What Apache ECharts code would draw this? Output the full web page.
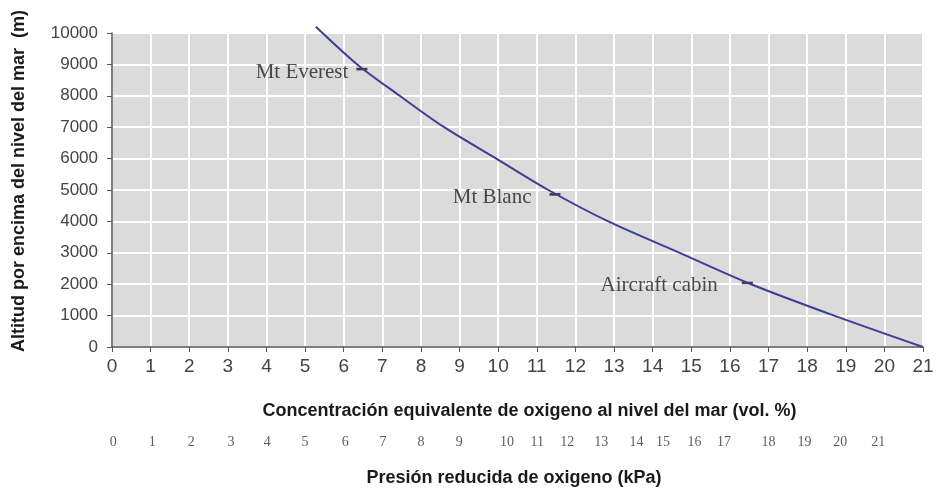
<!DOCTYPE html>
<html>
<head>
<meta charset="utf-8">
<script src="https://cdn.jsdelivr.net/npm/echarts@6/dist/echarts.min.js"></script>
<style>html,body{margin:0;padding:0;background:#fff;}#c{width:938px;height:499px;}</style>
</head>
<body>
<div id="c"></div>
<script>
// Curve: altitude (m) vs equivalent sea-level O2 concentration (vol. %)
const altitudes = [10200, 9000, 8000, 7000, 6000, 5000, 4000, 3000, 2000, 1000, 0];
const o2Vol     = [5.28, 6.35, 7.45, 8.6, 9.95, 11.3, 12.85, 14.7, 16.55, 18.7, 21.0];

// Landmarks on the curve
const landmarkNames = ['Mt Everest', 'Mt Blanc', 'Aircraft cabin'];
const landmarkVol   = [6.47, 11.47, 16.45];
const landmarkAlt   = [8850, 4860, 2040];

// Axis ticks
const volTicks = [0, 21, 1];        // min, max, step
const altTicks = [0, 10000, 1000];  // min, max, step

// Secondary scale: kPa labels and the vol.% value each one sits under
const kpaLabels = ['0','1','2','3','4','5','6','7','8','9','10','11','12','13','14','15','16','17','18','19','20','21'];
const kpaAtVol  = [0.03,1.04,2.05,3.08,4.02,5.0,6.04,7.02,8.0,8.99,10.23,11.01,11.79,12.67,13.58,14.27,15.08,15.85,17.0,17.93,18.86,19.84];

const chart = echarts.init(document.getElementById('c'), null, {renderer: 'canvas'});
const sans = 'Liberation Sans, Arial, sans-serif';
const serif = 'Liberation Serif, Times New Roman, serif';

const labelGaps = [8, 18, 24];
const curveData = altitudes.map((a, i) => [o2Vol[i], a]);
const landData = landmarkNames.map((n, i) => ({
  name: n, value: [landmarkVol[i], landmarkAlt[i]],
  label: {distance: labelGaps[i]}
}));
const kpaData = kpaLabels.map((l, i) => ({name: l, value: [kpaAtVol[i], 0.5]}));

chart.setOption({
  animation: false,
  backgroundColor: '#ffffff',
  grid: [
    {left: 112, right: 15, top: 33, bottom: 152, show: true, backgroundColor: '#dbdbdb', borderWidth: 0},
    {left: 112, right: 15, top: 432, height: 20, show: false}
  ],
  xAxis: [
    {
      type: 'value', gridIndex: 0, min: volTicks[0], max: volTicks[1], interval: volTicks[2],
      name: 'Concentración equivalente de oxigeno al nivel del mar (vol. %)',
      nameLocation: 'middle', nameGap: 55,
      nameTextStyle: {fontFamily: sans, fontWeight: 'bold', fontSize: 18, color: '#1a1a1a', padding: [0, 0, 0, 24]},
      axisLine: {show: true, lineStyle: {color: '#555', width: 1.5}},
      axisTick: {show: true, inside: false, length: 5, lineStyle: {color: '#555'}},
      axisLabel: {fontFamily: sans, fontSize: 19, color: '#444', margin: 10},
      splitLine: {show: true, lineStyle: {color: '#ffffff', width: 2}}
    },
    {
      type: 'value', gridIndex: 1, min: volTicks[0], max: volTicks[1],
      show: false
    }
  ],
  yAxis: [
    {
      type: 'value', gridIndex: 0, min: altTicks[0], max: altTicks[1], interval: altTicks[2],
      name: 'Altitud por encima del nivel del mar  (m)',
      nameLocation: 'middle', nameGap: 84, nameRotate: 90,
      nameTextStyle: {fontFamily: sans, fontWeight: 'bold', fontSize: 18, color: '#1a1a1a', padding: [0, 0, 0, 18]},
      axisLine: {show: true, lineStyle: {color: '#555', width: 1.5}},
      axisTick: {show: true, inside: false, length: 5, lineStyle: {color: '#555'}},
      axisLabel: {fontFamily: sans, fontSize: 17, color: '#444', margin: 14, formatter: v => String(v)},
      splitLine: {show: true, lineStyle: {color: '#ffffff', width: 2}}
    },
    {type: 'value', gridIndex: 1, min: 0, max: 1, show: false}
  ],
  series: [
    {
      type: 'line', xAxisIndex: 0, yAxisIndex: 0, data: curveData,
      smooth: 0.3, showSymbol: false, clip: false,
      lineStyle: {color: '#3d3d96', width: 2}
    },
    {
      type: 'scatter', xAxisIndex: 0, yAxisIndex: 0, data: landData,
      symbol: 'rect', symbolSize: [11, 2.5], itemStyle: {color: '#111'},
      label: {show: true, position: 'left', formatter: p => p.name,
              fontFamily: serif, fontSize: 21, color: '#222', offset: [0, 3]}
    },
    {
      type: 'scatter', xAxisIndex: 1, yAxisIndex: 1, data: kpaData,
      symbolSize: 0,
      label: {show: true, position: 'inside', formatter: p => p.name,
              fontFamily: serif, fontSize: 14, color: '#333'}
    }
  ],
  graphic: [
    {
      type: 'text', x: 514, y: 478,
      style: {text: 'Presión reducida de oxigeno (kPa)', font: 'bold 18px Liberation Sans, Arial, sans-serif',
              fill: '#1a1a1a', align: 'center', verticalAlign: 'middle', textAlign: 'center', textVerticalAlign: 'middle'}
    }
  ]
});
</script>
</body>
</html>
